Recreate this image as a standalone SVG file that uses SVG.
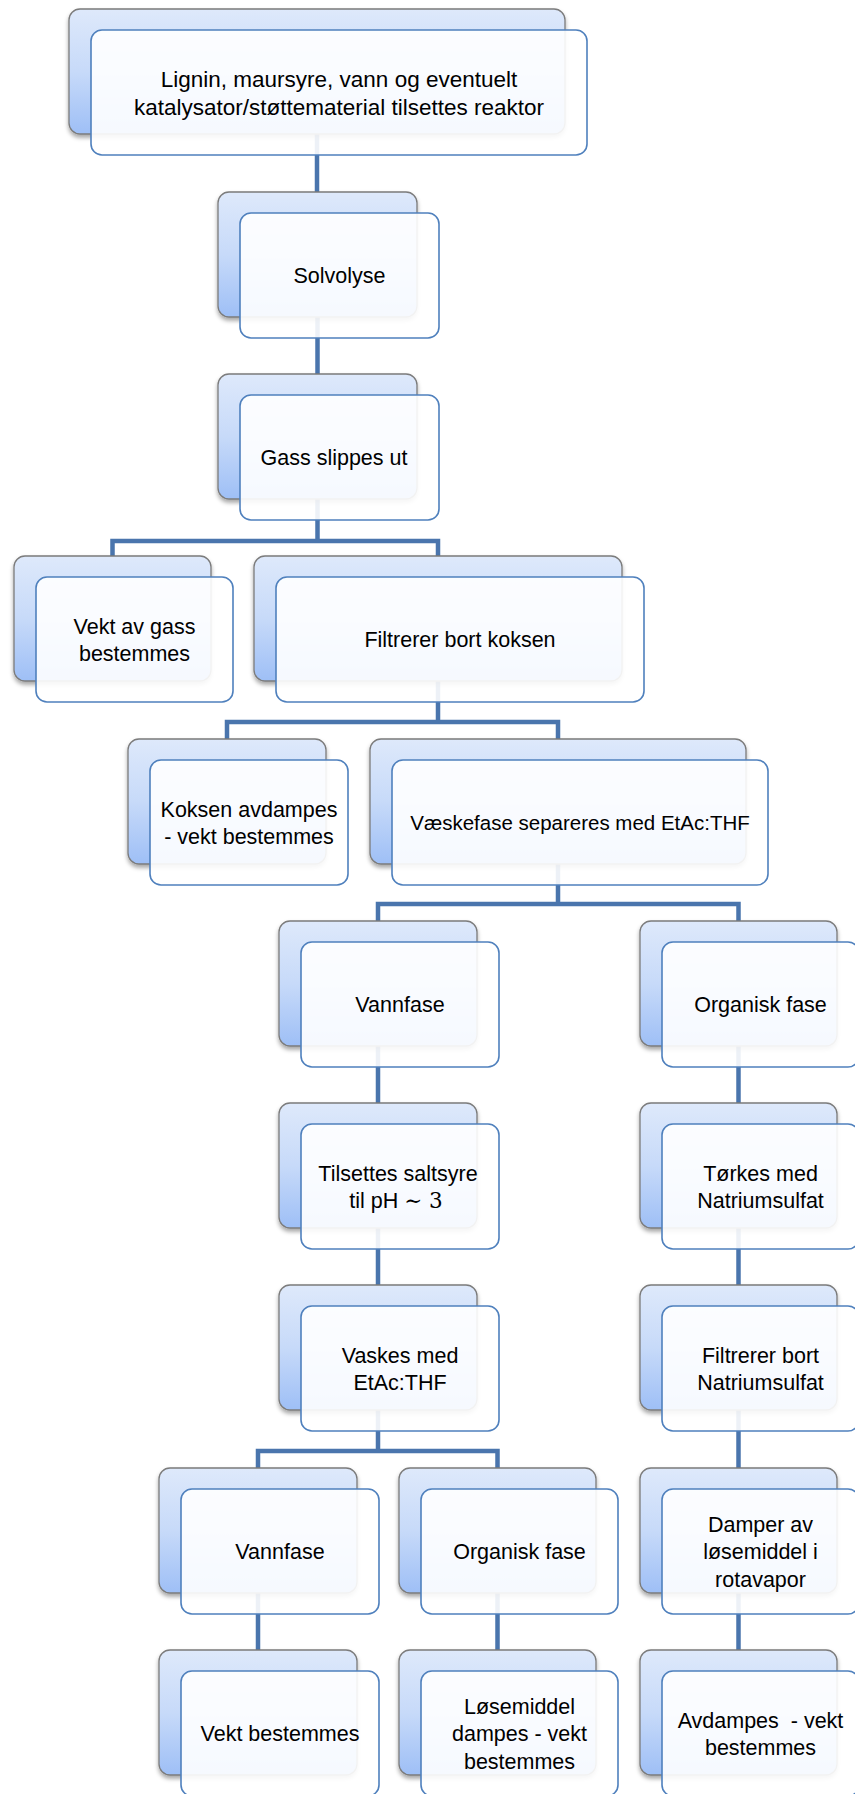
<svg xmlns="http://www.w3.org/2000/svg" width="855" height="1794" viewBox="0 0 855 1794">
<defs>
<linearGradient id="g" x1="0" y1="0" x2="0" y2="1">
<stop offset="0" stop-color="#dee9fb"/>
<stop offset="0.5" stop-color="#c7daf9"/>
<stop offset="1" stop-color="#9ebff6"/>
</linearGradient>
<filter id="sh" x="-10%" y="-10%" width="120%" height="130%">
<feDropShadow dx="0" dy="3" stdDeviation="2.2" flood-color="#000" flood-opacity="0.35"/>
</filter>
<style>
.bk{fill:url(#g);stroke:#7b7b7b;stroke-width:1.3;filter:url(#sh)}
.fr{fill:#fff;fill-opacity:0.9;stroke:#4f80bd;stroke-width:1.6}
.t{font-family:"Liberation Sans",Arial,sans-serif;font-size:21.5px;fill:#000;text-anchor:middle}
.c{fill:none;stroke:#4a75ad;stroke-width:4.5;stroke-linejoin:miter}
.m{font-family:"DejaVu Serif","Liberation Serif",serif}
</style>
</defs>
<rect width="855" height="1794" fill="#fff"/>
<g id="connectors" class="c">
<path d="M317 134 V192"/>
<path d="M317.5 317 V374"/>
<path d="M317.5 499 V541 M112.5 556 V541 H438 V556"/>
<path d="M438 681 V722 M227 739 V722 H558 V739"/>
<path d="M558 864 V904 M378 921 V904 H738.5 V921"/>
<path d="M378 1046 V1103 M378 1228 V1285"/>
<path d="M738.5 1046 V1650"/>
<path d="M378 1410 V1451 M258 1468 V1451 H497.5 V1468"/>
<path d="M258 1593 V1650 M497.5 1593 V1650"/>
</g>
<g id="n1"><rect class="bk" x="69" y="9" width="496" height="125" rx="11"/><rect class="fr" x="91" y="30" width="496" height="125" rx="11"/><text class="t" x="339" y="87" style="font-size:22.5px">Lignin, maursyre, vann og eventuelt</text><text class="t" x="339" y="114.5" style="font-size:22.5px">katalysator/støttematerial tilsettes reaktor</text></g>
<g id="n2"><rect class="bk" x="218" y="192" width="199" height="125" rx="11"/><rect class="fr" x="240" y="213" width="199" height="125" rx="11"/><text class="t" x="339.5" y="283">Solvolyse</text></g>
<g id="n3"><rect class="bk" x="218" y="374" width="199" height="125" rx="11"/><rect class="fr" x="240" y="395" width="199" height="125" rx="11"/><text class="t" x="334" y="465">Gass slippes ut</text></g>
<g id="n4"><rect class="bk" x="14" y="556" width="197" height="125" rx="11"/><rect class="fr" x="36" y="577" width="197" height="125" rx="11"/><text class="t" x="134.5" y="633.5">Vekt av gass</text><text class="t" x="134.5" y="661">bestemmes</text></g>
<g id="n5"><rect class="bk" x="254" y="556" width="368" height="125" rx="11"/><rect class="fr" x="276" y="577" width="368" height="125" rx="11"/><text class="t" x="460" y="647">Filtrerer bort koksen</text></g>
<g id="n6"><rect class="bk" x="128" y="739" width="198" height="125" rx="11"/><rect class="fr" x="150" y="760" width="198" height="125" rx="11"/><text class="t" x="249" y="816.5">Koksen avdampes</text><text class="t" x="249" y="844">- vekt bestemmes</text></g>
<g id="n7"><rect class="bk" x="370" y="739" width="376" height="125" rx="11"/><rect class="fr" x="392" y="760" width="376" height="125" rx="11"/><text class="t" x="580" y="830" style="font-size:20.5px">Væskefase separeres med EtAc:THF</text></g>
<g id="n8"><rect class="bk" x="279" y="921" width="198" height="125" rx="11"/><rect class="fr" x="301" y="942" width="198" height="125" rx="11"/><text class="t" x="400" y="1012">Vannfase</text></g>
<g id="n9"><rect class="bk" x="640" y="921" width="197" height="125" rx="11"/><rect class="fr" x="662" y="942" width="197" height="125" rx="11"/><text class="t" x="760.5" y="1012">Organisk fase</text></g>
<g id="n10"><rect class="bk" x="279" y="1103" width="198" height="125" rx="11"/><rect class="fr" x="301" y="1124" width="198" height="125" rx="11"/><text class="t" x="398" y="1180.5">Tilsettes saltsyre</text><text class="t" x="396" y="1208">til pH <tspan class="m">∼ 3</tspan></text></g>
<g id="n11"><rect class="bk" x="640" y="1103" width="197" height="125" rx="11"/><rect class="fr" x="662" y="1124" width="197" height="125" rx="11"/><text class="t" x="760.5" y="1180.5">Tørkes med</text><text class="t" x="760.5" y="1208">Natriumsulfat</text></g>
<g id="n12"><rect class="bk" x="279" y="1285" width="198" height="125" rx="11"/><rect class="fr" x="301" y="1306" width="198" height="125" rx="11"/><text class="t" x="400" y="1362.5">Vaskes med</text><text class="t" x="400" y="1390">EtAc:THF</text></g>
<g id="n13"><rect class="bk" x="640" y="1285" width="197" height="125" rx="11"/><rect class="fr" x="662" y="1306" width="197" height="125" rx="11"/><text class="t" x="760.5" y="1362.5">Filtrerer bort</text><text class="t" x="760.5" y="1390">Natriumsulfat</text></g>
<g id="n14"><rect class="bk" x="159" y="1468" width="198" height="125" rx="11"/><rect class="fr" x="181" y="1489" width="198" height="125" rx="11"/><text class="t" x="280" y="1559">Vannfase</text></g>
<g id="n15"><rect class="bk" x="399" y="1468" width="197" height="125" rx="11"/><rect class="fr" x="421" y="1489" width="197" height="125" rx="11"/><text class="t" x="519.5" y="1559">Organisk fase</text></g>
<g id="n16"><rect class="bk" x="640" y="1468" width="197" height="125" rx="11"/><rect class="fr" x="662" y="1489" width="197" height="125" rx="11"/><text class="t" x="760.5" y="1531.5">Damper av</text><text class="t" x="760.5" y="1559">løsemiddel i</text><text class="t" x="760.5" y="1586.5">rotavapor</text></g>
<g id="n17"><rect class="bk" x="159" y="1650" width="198" height="125" rx="11"/><rect class="fr" x="181" y="1671" width="198" height="125" rx="11"/><text class="t" x="280" y="1741">Vekt bestemmes</text></g>
<g id="n18"><rect class="bk" x="399" y="1650" width="197" height="125" rx="11"/><rect class="fr" x="421" y="1671" width="197" height="125" rx="11"/><text class="t" x="519.5" y="1713.5">Løsemiddel</text><text class="t" x="519.5" y="1741">dampes - vekt</text><text class="t" x="519.5" y="1768.5">bestemmes</text></g>
<g id="n19"><rect class="bk" x="640" y="1650" width="197" height="125" rx="11"/><rect class="fr" x="662" y="1671" width="197" height="125" rx="11"/><text class="t" x="760.5" y="1727.5" style="white-space:pre">Avdampes  - vekt</text><text class="t" x="760.5" y="1755">bestemmes</text></g>
</svg>
